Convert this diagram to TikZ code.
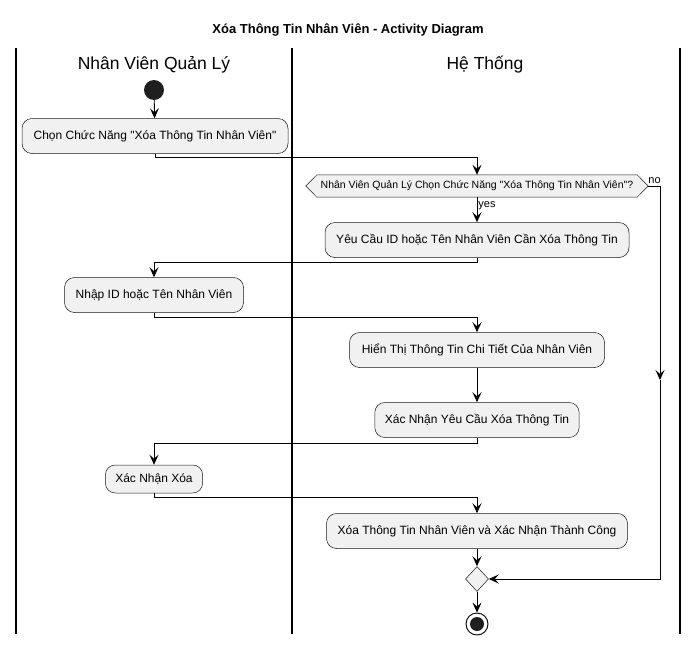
\documentclass[tikz,border=0pt]{standalone}
\usepackage{fontspec}
\setmainfont{Liberation Sans}
\usetikzlibrary{arrows.meta,shapes.geometric}
\definecolor{boxfill}{HTML}{F1F1F1}
\definecolor{boxline}{HTML}{181818}
\begin{document}
\begin{tikzpicture}[x=1pt,y=1pt,
  act/.style={draw=boxline,fill=boxfill,rounded corners=10pt,minimum height=35pt,inner xsep=10pt,font=\fontsize{12}{14}\selectfont,line width=0.5pt},
  arr/.style={draw=black,line width=0.9pt,-{Stealth[length=10pt,width=9pt,inset=4pt]}},
  lane/.style={draw=black,line width=1.2pt},
  hdr/.style={font=\fontsize{17.5}{20}\selectfont},
  dectext/.style={minimum width=342pt,minimum height=22pt,inner sep=0pt,font=\fontsize{10.5}{12}\selectfont},
  lbl/.style={font=\fontsize{11}{13}\selectfont,inner sep=1pt}]
\useasboundingbox (0,0) rectangle (697,-645);
\node[font=\bfseries\fontsize{13}{15}\selectfont] (title) at (348,-30) {Xóa Thông Tin Nhân Viên - Activity Diagram};
\draw[lane] (16,-48) coordinate (l1t) -- (16,-634) coordinate (l1b);
\draw[lane] (292,-48) coordinate (l2t) -- (292,-634) coordinate (l2b);
\draw[lane] (680,-48) coordinate (l3t) -- (680,-634) coordinate (l3b);
\node[hdr] (h1) at (154,-65) {Nhân Viên Quản Lý};
\node[hdr] (h2) at (485,-65) {Hệ Thống};
\node[circle,fill=black!88,minimum size=20pt,inner sep=0pt] (start) at (154,-90) {};
\node[act,minimum width=266pt] (b1) at (155,-136) {Chọn Chức Năng \textquotedbl Xóa Thông Tin Nhân Viên\textquotedbl};
\node[dectext] (dec) at (477,-186) {};
\draw[draw=boxline,fill=boxfill,line width=0.5pt] (dec.west) -- ([xshift=11pt]dec.north west) -- ([xshift=-11pt]dec.north east) -- (dec.east) -- ([xshift=-11pt]dec.south east) -- ([xshift=11pt]dec.south west) -- cycle;
\node[dectext] (dect) at (dec.center) {Nhân Viên Quản Lý Chọn Chức Năng \textquotedbl Xóa Thông Tin Nhân Viên\textquotedbl ?};
\node[act,minimum width=304pt] (b2) at (477,-240) {Yêu Cầu ID hoặc Tên Nhân Viên Cần Xóa Thông Tin};
\node[act,minimum width=179pt] (b3) at (154,-295) {Nhập ID hoặc Tên Nhân Viên};
\node[act,minimum width=255pt] (b4) at (477,-350) {Hiển Thị Thông Tin Chi Tiết Của Nhân Viên};
\node[act,minimum width=204pt] (b5) at (477,-420) {Xác Nhận Yêu Cầu Xóa Thông Tin};
\node[act,minimum width=97pt,minimum height=28pt] (b6) at (154,-479) {Xác Nhận Xóa};
\node[act,minimum width=301pt] (b7) at (477,-531) {Xóa Thông Tin Nhân Viên và Xác Nhận Thành Công};
\node[diamond,draw=boxline,fill=boxfill,line width=0.5pt,minimum width=23pt,minimum height=25pt,inner sep=0pt] (mg) at (477,-579) {};
\node[circle,draw=black,line width=0.9pt,fill=white,minimum size=22pt,inner sep=0pt] (endo) at (477,-624) {};
\node[circle,fill=black!88,minimum size=14pt,inner sep=0pt] (endi) at (477,-624) {};
\coordinate (nomid) at (660,-380);
\draw[arr] (start) -- (b1);
\draw[arr] (b1.south) -- ++(0,-4) -| (dec.north);
\draw[arr] (dec.south) -- node[lbl,right,pos=0.35] {yes} (b2.north);
\draw[arr] (dec.east) -| (nomid);
\node[lbl,anchor=south west] (no) at ([xshift=-1pt,yshift=1pt]dec.east) {no};
\draw[arr] (nomid) |- (mg.east);
\draw[arr] (b2.south) -- ++(0,-5) -| (b3.north);
\draw[arr] (b3.south) -- ++(0,-5) -| (b4.north);
\draw[arr] (b4) -- (b5);
\draw[arr] (b5.south) -- ++(0,-6) -| (b6.north);
\draw[arr] (b6.south) -- ++(0,-4) -| (b7.north);
\draw[arr] (b7) -- (mg);
\draw[arr] (mg) -- (endo);
\end{tikzpicture}
\end{document}
